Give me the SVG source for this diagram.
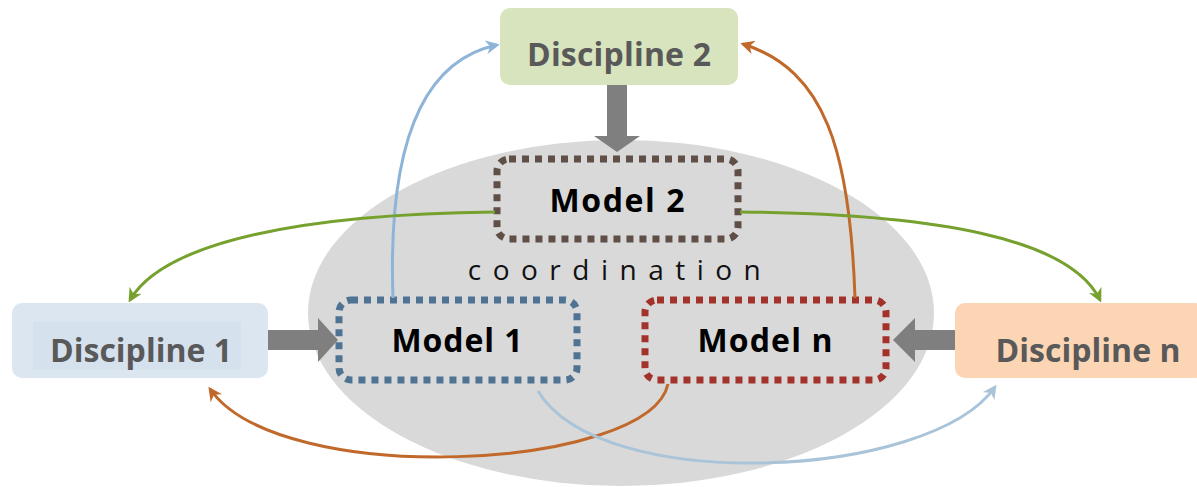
<svg xmlns="http://www.w3.org/2000/svg" width="1197" height="487" viewBox="0 0 1197 487">
<style>
.disc{font-family:"Open Sans","Liberation Sans",sans-serif;font-weight:700;font-size:32px;fill:#595959;text-anchor:middle}
.model{font-family:"Open Sans","Liberation Sans",sans-serif;font-weight:700;font-size:32px;fill:#000;text-anchor:middle}
.coord{font-family:"Open Sans","Liberation Sans",sans-serif;font-size:28px;fill:#111;text-anchor:middle}
.dot{fill:none;stroke-width:7;stroke-dasharray:7 6}
.con{fill:none;stroke-width:3}
.big{fill:#7f7f7f}
</style>
<defs>
<marker id="ab" markerWidth="14" markerHeight="14" refX="8" refY="5" orient="auto" markerUnits="userSpaceOnUse" viewBox="0 0 10 10"><path d="M0,0 L10,5 L0,10 L3,5 Z" fill="#8fb4d9"/></marker>
<marker id="ab2" markerWidth="14" markerHeight="14" refX="8" refY="5" orient="auto" markerUnits="userSpaceOnUse" viewBox="0 0 10 10"><path d="M0,0 L10,5 L0,10 L3,5 Z" fill="#a9c4d9"/></marker>
<marker id="ao" markerWidth="14" markerHeight="14" refX="8" refY="5" orient="auto" markerUnits="userSpaceOnUse" viewBox="0 0 10 10"><path d="M0,0 L10,5 L0,10 L3,5 Z" fill="#c0692b"/></marker>
<marker id="ag" markerWidth="14" markerHeight="14" refX="8" refY="5" orient="auto" markerUnits="userSpaceOnUse" viewBox="0 0 10 10"><path d="M0,0 L10,5 L0,10 L3,5 Z" fill="#76a12e"/></marker>
</defs>
<rect width="1197" height="487" fill="#fff"/>
<ellipse id="coordination-area" cx="621" cy="313" rx="313" ry="173" fill="#d9d9d9"/>
<text class="coord" x="620" y="280" letter-spacing="11.5">coordination</text>

<g id="discipline-2">
<rect x="500" y="8" width="238" height="77" rx="10" fill="#d7e4bd"/>
<text class="disc" x="619" y="66" textLength="184">Discipline 2</text>
</g>
<g id="discipline-1">
<rect x="12" y="303" width="256" height="75" rx="10" fill="#dce6f1"/>
<rect x="33" y="322" width="208" height="48" fill="#d6e1ee"/>
<text class="disc" x="141" y="362" textLength="182">Discipline 1</text>
</g>
<g id="discipline-n">
<rect x="955" y="303" width="250" height="75" rx="10" fill="#fcd5b5"/>
<text class="disc" x="1088" y="362" textLength="185">Discipline n</text>
</g>

<g id="model-2">
<rect class="dot" x="497" y="159" width="241" height="80" rx="12" stroke="#5f4f47"/>
<text class="model" x="617" y="212" textLength="135">Model 2</text>
</g>
<g id="model-1">
<rect class="dot" x="339" y="300" width="238" height="80" rx="12" stroke="#4f7393"/>
<text class="model" x="457" y="352" textLength="131">Model 1</text>
</g>
<g id="model-n">
<rect class="dot" x="645" y="300" width="241" height="80" rx="12" stroke="#a3322a"/>
<text class="model" x="765" y="352" textLength="135">Model n</text>
</g>

<g id="connectors">
<path class="big" d="M607,85 H627 V136 H640 L617,152 L594,136 H607 Z"/>
<path class="big" d="M268,330 H318 V318 L338,340 L318,362 V350 H268 Z"/>
<path class="big" d="M955,330 H915 V318 L893,340 L915,362 V350 H955 Z"/>
<path class="con" stroke="#8fb4d9" d="M393,298 C388,160 415,62 497,45" marker-end="url(#ab)"/>
<path class="con" stroke="#c0692b" d="M855,298 C850,150 825,70 743,44" marker-end="url(#ao)"/>
<path class="con" stroke="#76a12e" d="M495,212 C310,214 165,240 130,300" marker-end="url(#ag)"/>
<path class="con" stroke="#76a12e" d="M740,212 C935,214 1070,238 1100,300" marker-end="url(#ag)"/>
<path class="con" stroke="#c0692b" d="M668,384 C650,470 280,490 210,389" marker-end="url(#ao)"/>
<path class="con" stroke="#a9c4d9" d="M538,391 C600,495 930,480 995,387" marker-end="url(#ab2)"/>
</g>
</svg>
